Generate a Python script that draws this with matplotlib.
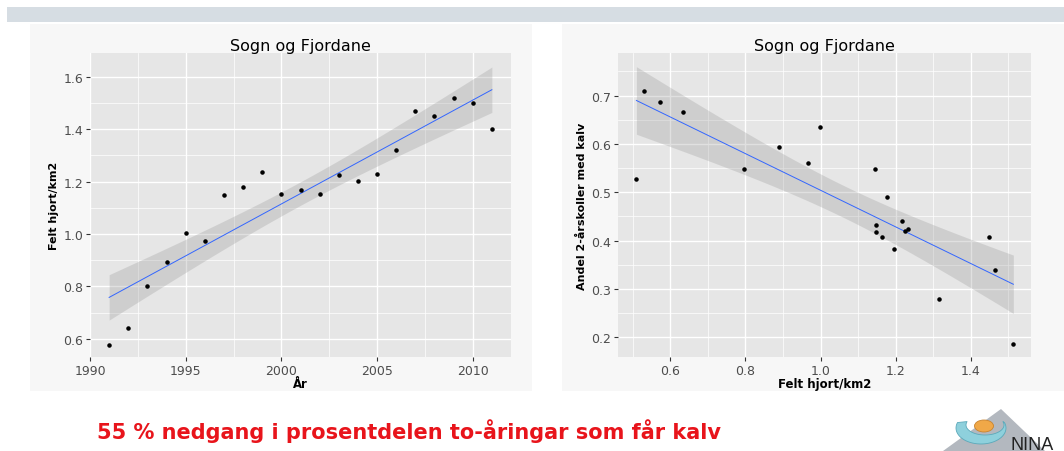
import numpy as np
import matplotlib.pyplot as plt
from matplotlib.patches import Rectangle, Polygon, Ellipse
from matplotlib.ticker import MultipleLocator

# left plot: felt hjort per km2 by year
years = [1991, 1992, 1993, 1994, 1995, 1996, 1997, 1998, 1999, 2000, 2001,
         2002, 2003, 2004, 2005, 2006, 2007, 2008, 2009, 2010, 2011]
felt = [0.577, 0.642, 0.800, 0.894, 1.005, 0.972, 1.148, 1.179, 1.235, 1.153, 1.167,
        1.153, 1.223, 1.202, 1.229, 1.320, 1.469, 1.451, 1.517, 1.498, 1.402]

# right plot: share of 2-year-olds with calf vs felt hjort/km2
dens = [0.510, 0.529, 0.573, 0.635, 0.795, 0.889, 0.967, 0.998, 1.145, 1.147, 1.147,
        1.163, 1.176, 1.196, 1.218, 1.226, 1.232, 1.315, 1.448, 1.463, 1.513]
andel = [0.527, 0.710, 0.686, 0.665, 0.547, 0.594, 0.560, 0.634, 0.547, 0.432, 0.417,
         0.407, 0.491, 0.383, 0.441, 0.419, 0.424, 0.279, 0.408, 0.340, 0.186]

title = 'Sogn og Fjordane'
caption = '55 % nedgang i prosentdelen to-åringar som får kalv'

W, H = 1064, 452


def lm_band(x, y, t=2.093):
    # linear fit with 95% confidence band (like geom_smooth(method='lm')), t for df=19
    x = np.asarray(x, float)
    y = np.asarray(y, float)
    b, a = np.polyfit(x, y, 1)
    n = len(x)
    s = np.sqrt(np.sum((y - (a + b * x)) ** 2) / (n - 2))
    sxx = np.sum((x - x.mean()) ** 2)
    xs = np.linspace(x.min(), x.max(), 100)
    fit = a + b * xs
    se = s * np.sqrt(1 / n + (xs - x.mean()) ** 2 / sxx)
    return xs, fit, fit - t * se, fit + t * se


def gg(ax):
    ax.set_facecolor('#E6E6E6')
    for s in ax.spines.values():
        s.set_visible(False)
    ax.grid(which='major', color='white', lw=1.0)
    ax.grid(which='minor', color='white', lw=0.5)
    ax.set_axisbelow(True)
    ax.tick_params(which='major', length=3, width=0.8, color='#333333',
                   labelsize=9, labelcolor='#4D4D4D', pad=2)
    ax.tick_params(which='minor', length=0)


def px_axes(fig, x0, y0, x1, y1):
    return fig.add_axes([x0 / W, 1 - y1 / H, (x1 - x0) / W, (y1 - y0) / H])


fig = plt.figure(figsize=(W / 100, H / 100), dpi=100)

# slide decoration
bg = fig.add_axes([0, 0, 1, 1], zorder=-1)
bg.set_xlim(0, W)
bg.set_ylim(H, 0)
bg.axis('off')
bg.add_patch(Rectangle((7, 8), W - 7, 15, color='#D6DDE3', lw=0))
bg.add_patch(Rectangle((30, 25), 502, 367, color='#F7F7F7', lw=0))
bg.add_patch(Rectangle((562, 25), 502, 367, color='#F7F7F7', lw=0))
bg.text(97, 431, caption, fontsize=15, weight='bold', color='#E8141B',
        va='center', ha='left', family='DejaVu Sans')

# NINA logo
bg.add_patch(Polygon([(1001, 410), (943, 452), (1045, 452)], color='#B3B8BF', lw=0))
ang = np.radians(np.linspace(160, 380, 40))
outer = np.column_stack([981 + 25 * np.cos(ang), 429 - 16 * np.sin(ang)])
inner = np.column_stack([985 + 19 * np.cos(ang[::-1]), 426 - 10 * np.sin(ang[::-1])])
bg.add_patch(Polygon(np.vstack([outer, inner]), fc='#8ED0DC', ec='#5BA9BA', lw=0.6))
bg.add_patch(Ellipse((984, 427), 19, 12, fc='#F0A848', ec='#C9832E', lw=0.6))
bg.text(1010, 437, 'NINA', fontsize=13, color='#222222', va='top', ha='left',
        family='Liberation Sans')

# left chart
ax1 = px_axes(fig, 90, 54, 511, 358)
gg(ax1)
xs, fit, lo, hi = lm_band(years, felt)
ax1.fill_between(xs, lo, hi, color='#999999', alpha=0.3, lw=0)
ax1.plot(xs, fit, color='#3366FF', lw=0.7)
ax1.scatter(years, felt, s=5, color='black', zorder=3)
ax1.set_xlim(1990, 2012)
ax1.set_ylim(0.531, 1.69)
ax1.xaxis.set_major_locator(MultipleLocator(5))
ax1.xaxis.set_minor_locator(MultipleLocator(2.5))
ax1.yaxis.set_major_locator(MultipleLocator(0.2))
ax1.yaxis.set_minor_locator(MultipleLocator(0.1))
ax1.yaxis.set_major_formatter(lambda v, p: f'{v:.1f}')
ax1.set_title(title, fontsize=11.5, pad=2)
ax1.set_xlabel('År', fontsize=8.5, weight='bold', labelpad=0)
ax1.set_ylabel('Felt hjort/km2', fontsize=8, weight='bold', labelpad=3,
               family='Liberation Sans Narrow')

# right chart
ax2 = px_axes(fig, 618, 54, 1031, 358)
gg(ax2)
xs, fit, lo, hi = lm_band(dens, andel)
ax2.fill_between(xs, lo, hi, color='#999999', alpha=0.3, lw=0)
ax2.plot(xs, fit, color='#3366FF', lw=0.7)
ax2.scatter(dens, andel, s=5, color='black', zorder=3)
ax2.set_xlim(0.461, 1.56)
ax2.set_ylim(0.159, 0.788)
ax2.xaxis.set_major_locator(MultipleLocator(0.2))
ax2.xaxis.set_minor_locator(MultipleLocator(0.1))
ax2.yaxis.set_major_locator(MultipleLocator(0.1))
ax2.yaxis.set_minor_locator(MultipleLocator(0.05))
ax2.xaxis.set_major_formatter(lambda v, p: f'{v:.1f}')
ax2.yaxis.set_major_formatter(lambda v, p: f'{v:.1f}')
ax2.set_title(title, fontsize=11.5, pad=2)
ax2.set_xlabel('Felt hjort/km2', fontsize=8.5, weight='bold', labelpad=0)
ax2.set_ylabel('Andel 2-årskoller med kalv', fontsize=8, weight='bold', labelpad=3,
               family='Liberation Sans Narrow')

fig.savefig('out.png', dpi=100)
